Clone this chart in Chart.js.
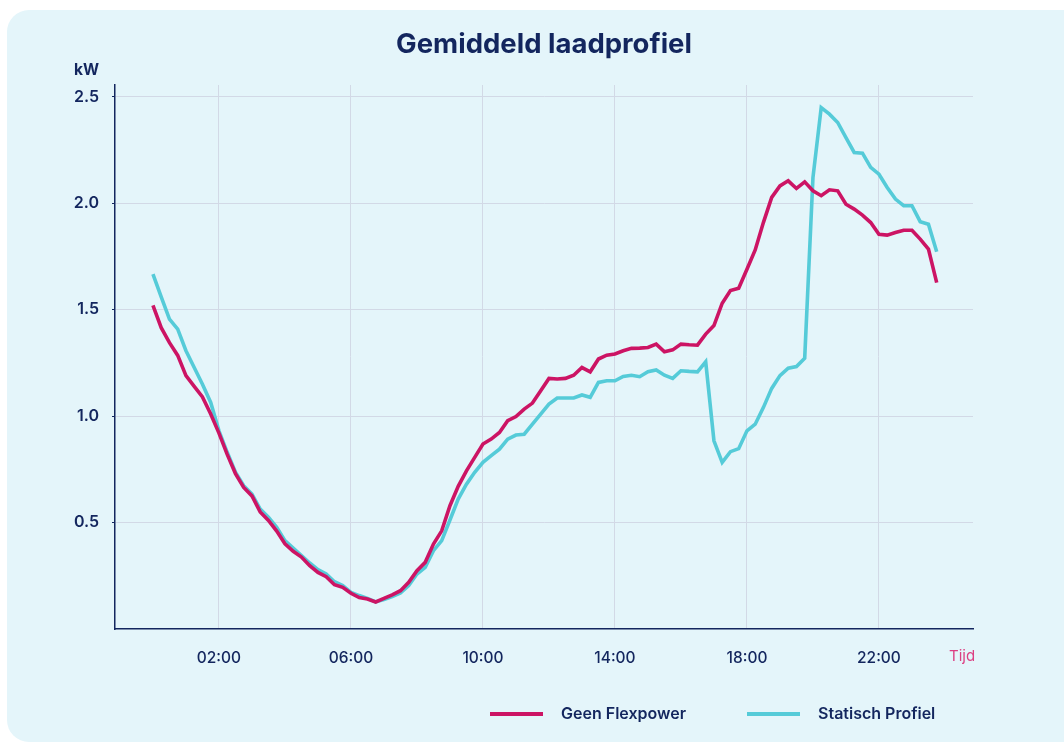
<!DOCTYPE html>
<html>
<head>
<meta charset="utf-8">
<title>Gemiddeld laadprofiel</title>
<script src="https://cdn.jsdelivr.net/npm/chart.js@4.4.1/dist/chart.umd.min.js"></script>
<style>
  html, body { margin: 0; padding: 0; background: #ffffff; overflow: hidden; }
  .card {
    position: absolute; left: 7px; top: 10px; width: 1080px; height: 732px;
    background: #e4f5fa; border-radius: 22px;
  }
  #chart { position: absolute; left: 0; top: 0; }
</style>
</head>
<body>
<div class="card"></div>
<canvas id="chart" width="1064" height="742"></canvas>
<script>
  // quarter-hour values, 00:00 .. 23:45 (kW)
  const geenFlexpower = [
    1.52, 1.415, 1.345, 1.285, 1.19, 1.14, 1.09, 1.01,
    0.92, 0.82, 0.73, 0.665, 0.625, 0.55, 0.51, 0.46,
    0.40, 0.365, 0.338, 0.297, 0.266, 0.246, 0.208, 0.196,
    0.168, 0.148, 0.141, 0.127, 0.144, 0.16, 0.18, 0.219,
    0.274, 0.313, 0.399, 0.461, 0.579, 0.67, 0.743, 0.806,
    0.869, 0.892, 0.923, 0.978, 0.998, 1.033, 1.061, 1.119,
    1.177, 1.174, 1.177, 1.192, 1.228, 1.208, 1.268, 1.286,
    1.292, 1.307, 1.318, 1.319, 1.322, 1.338, 1.302, 1.311,
    1.338, 1.335, 1.333, 1.385, 1.425, 1.53, 1.59, 1.60,
    1.69, 1.78, 1.91, 2.027, 2.081, 2.105, 2.069, 2.10,
    2.058, 2.035, 2.063, 2.058, 1.995, 1.972, 1.944, 1.909,
    1.854, 1.85, 1.862, 1.873, 1.873, 1.831, 1.784, 1.627
  ];
  const statischProfiel = [
    1.667, 1.56, 1.455, 1.408, 1.307, 1.228, 1.15, 1.064,
    0.931, 0.83, 0.736, 0.673, 0.634, 0.563, 0.525, 0.478,
    0.415, 0.38, 0.345, 0.31, 0.279, 0.258, 0.222, 0.204,
    0.172, 0.157, 0.144, 0.127, 0.138, 0.152, 0.169, 0.204,
    0.258, 0.29, 0.368, 0.415, 0.512, 0.61, 0.68, 0.736,
    0.783, 0.814, 0.845, 0.892, 0.911, 0.915, 0.962, 1.009,
    1.056, 1.085, 1.085, 1.085, 1.099, 1.088, 1.158, 1.166,
    1.166, 1.186, 1.192, 1.185, 1.208, 1.217, 1.192, 1.177,
    1.213, 1.21, 1.208, 1.255, 0.884, 0.783, 0.833, 0.847,
    0.931, 0.962, 1.041, 1.13, 1.19, 1.225, 1.233, 1.272,
    2.12, 2.449, 2.418, 2.379, 2.308, 2.238, 2.235, 2.168,
    2.136, 2.074, 2.019, 1.988, 1.988, 1.913, 1.901, 1.772
  ];
  const seriesLabels = ['Geen Flexpower', 'Statisch Profiel'];
  const xTickLabels = ['02:00', '06:00', '10:00', '14:00', '18:00', '22:00'];
  const yTickValues = [0.5, 1.0, 1.5, 2.0, 2.5];

  const times = [];
  for (let h = 0; h < 24; h++) {
    for (let m = 0; m < 60; m += 15) {
      times.push(String(h).padStart(2, '0') + ':' + String(m).padStart(2, '0'));
    }
  }

  const NAVY = '#13265e';
  const MAGENTA = '#cc1464';
  const CYAN = '#55cbd8';
  const FONT = 'Inter, "Open Sans", sans-serif';

  function toHours(t) {
    const [h, m] = t.split(':').map(Number);
    return h + m / 60;
  }

  function toPoints(values) {
    return values.map((v, i) => ({ x: toHours(times[i]), y: v }));
  }

  // extra text and the legend drawn at the bottom
  const extras = {
    id: 'extras',
    afterDraw(chart) {
      const ctx = chart.ctx;
      const area = chart.chartArea;
      ctx.save();
      ctx.fillStyle = NAVY;
      ctx.font = '700 15.5px ' + FONT;
      ctx.textBaseline = 'middle';
      ctx.textAlign = 'left';
      ctx.fillText('kW', 74, 70);

      ctx.fillStyle = '#dc3f82';
      ctx.font = '400 15px ' + FONT;
      ctx.fillText('Tijd', area.right - 24, 656);

      const items = [
        { x: 490 },
        { x: 747 }
      ];
      chart.data.datasets.forEach((ds, i) => {
        const it = items[i];
        ctx.strokeStyle = ds.borderColor;
        ctx.lineWidth = 4;
        ctx.beginPath();
        ctx.moveTo(it.x, 714);
        ctx.lineTo(it.x + 53, 714);
        ctx.stroke();
        ctx.fillStyle = NAVY;
        ctx.font = '600 16px ' + FONT;
        ctx.fillText(ds.label, it.x + 71, 714);
      });
      ctx.restore();
    }
  };

  new Chart(document.getElementById('chart'), {
    type: 'line',
    data: {
      datasets: [
        {
          label: seriesLabels[0],
          data: toPoints(geenFlexpower),
          borderColor: MAGENTA,
          backgroundColor: MAGENTA,
          borderWidth: 3.6,
          pointRadius: 0,
          tension: 0
        },
        {
          label: seriesLabels[1],
          data: toPoints(statischProfiel),
          borderColor: CYAN,
          backgroundColor: CYAN,
          borderWidth: 3.6,
          pointRadius: 0,
          tension: 0
        }
      ]
    },
    options: {
      responsive: false,
      animation: false,
      devicePixelRatio: 1,
      layout: { padding: { top: 0, right: 91, bottom: 63, left: 0 } },
      plugins: {
        legend: { display: false },
        tooltip: { enabled: false },
        title: {
          display: true,
          fullSize: false,
          text: 'Gemiddeld laadprofiel',
          color: NAVY,
          font: { family: FONT, size: 27.5, weight: '700' },
          padding: { top: 28, bottom: 24 }
        }
      },
      scales: {
        x: {
          type: 'linear',
          min: -1.15,
          max: 24.85,
          afterFit(scale) { scale.height = 50; },
          afterBuildTicks(scale) {
            scale.ticks = xTickLabels.map(t => ({ value: toHours(t) }));
          },
          ticks: {
            color: NAVY,
            font: { family: FONT, size: 15.5, weight: '500' },
            padding: 20,
            maxRotation: 0,
            callback: (v, i) => xTickLabels[i]
          },
          grid: { color: '#d2d9e6', lineWidth: 1, drawTicks: false },
          border: { color: NAVY, width: 1.5 }
        },
        y: {
          min: 0,
          max: 2.555,
          afterFit(scale) { scale.width = 115; },
          afterBuildTicks(scale) {
            scale.ticks = yTickValues.map(v => ({ value: v }));
          },
          ticks: {
            color: NAVY,
            font: { family: FONT, size: 16, weight: '600' },
            padding: 13,
            callback: v => v.toFixed(1)
          },
          grid: { color: '#d2d9e6', lineWidth: 1, tickLength: 3, tickColor: NAVY },
          border: { color: NAVY, width: 1.5 }
        }
      }
    },
    plugins: [extras]
  });
</script>
</body>
</html>
